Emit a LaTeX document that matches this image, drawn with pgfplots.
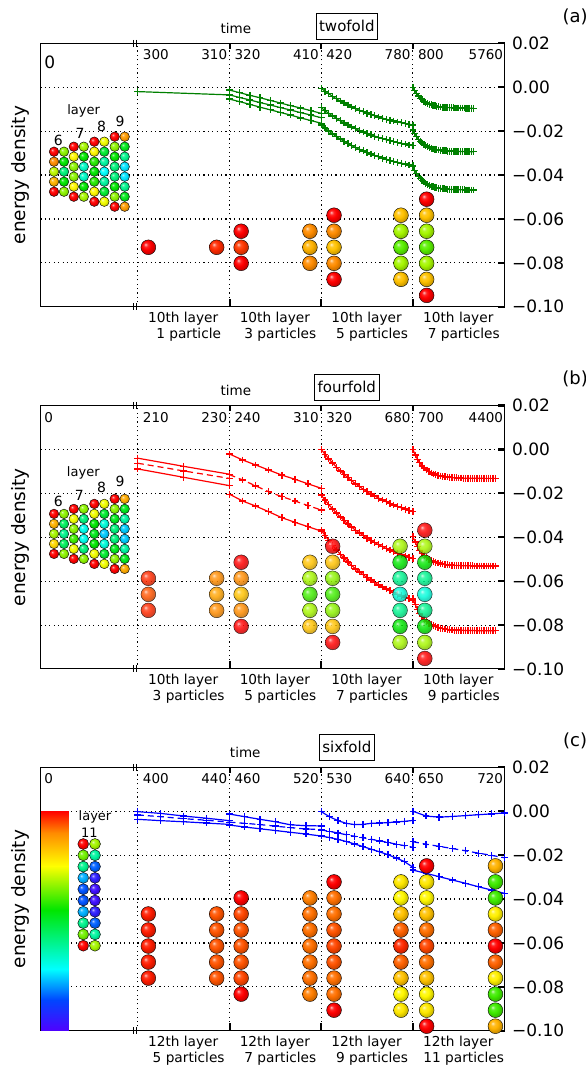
\documentclass[border=0pt]{standalone}
\usepackage{fontspec}
\setmainfont{DejaVu Sans}
\usepackage{pgfplots}
\usepackage{pgfplotstable}
\pgfplotsset{compat=1.18}
\definecolor{mgreen}{RGB}{0,128,0}
\makeatletter
\pgfdeclareradialshading[tikz@ball]{ball}{\pgfqpoint{-10bp}{10bp}}{color(0bp)=(tikz@ball!25!white); color(7bp)=(tikz@ball!85!white); color(15bp)=(tikz@ball); color(25bp)=(tikz@ball!82!black); color(50bp)=(tikz@ball!45!black)}
\makeatother

\pgfplotstableread{
x top mid bot
1.0000 -0.0013 -0.0035 -0.0054
1.1111 -0.0025 -0.0047 -0.0066
1.2222 -0.0037 -0.0058 -0.0078
1.3333 -0.0048 -0.0070 -0.0091
1.4444 -0.0060 -0.0081 -0.0103
1.5556 -0.0072 -0.0093 -0.0115
1.6667 -0.0084 -0.0104 -0.0127
1.7778 -0.0095 -0.0116 -0.0140
1.8889 -0.0107 -0.0127 -0.0152
2.0000 -0.0119 -0.0139 -0.0164
}\tabAone
\pgfplotstableread{
x top mid bot
2.0000 -0.0005 -0.0093 -0.0172
2.0417 -0.0018 -0.0107 -0.0186
2.0833 -0.0030 -0.0119 -0.0200
2.1250 -0.0042 -0.0131 -0.0213
2.1667 -0.0053 -0.0142 -0.0225
2.2083 -0.0063 -0.0153 -0.0236
2.2500 -0.0072 -0.0163 -0.0247
2.2917 -0.0081 -0.0172 -0.0256
2.3333 -0.0090 -0.0181 -0.0266
2.3750 -0.0098 -0.0189 -0.0275
2.4167 -0.0105 -0.0197 -0.0283
2.4583 -0.0112 -0.0204 -0.0290
2.5000 -0.0118 -0.0211 -0.0298
2.5417 -0.0125 -0.0217 -0.0304
2.5833 -0.0130 -0.0223 -0.0311
2.6250 -0.0136 -0.0229 -0.0317
2.6667 -0.0141 -0.0234 -0.0323
2.7083 -0.0146 -0.0239 -0.0328
2.7500 -0.0150 -0.0243 -0.0333
2.7917 -0.0154 -0.0248 -0.0338
2.8333 -0.0158 -0.0252 -0.0342
2.8750 -0.0162 -0.0256 -0.0346
2.9167 -0.0166 -0.0259 -0.0350
2.9583 -0.0169 -0.0263 -0.0354
3.0000 -0.0172 -0.0266 -0.0357
}\tabAtwo
\pgfplotstableread{
x top mid bot
3.00 0.0000 -0.0195 -0.0362
3.02 -0.0016 -0.0212 -0.0380
3.04 -0.0029 -0.0225 -0.0394
3.06 -0.0040 -0.0237 -0.0407
3.08 -0.0050 -0.0246 -0.0417
3.10 -0.0057 -0.0254 -0.0425
3.12 -0.0064 -0.0261 -0.0432
3.14 -0.0069 -0.0266 -0.0438
3.16 -0.0074 -0.0271 -0.0443
3.18 -0.0077 -0.0275 -0.0447
3.20 -0.0080 -0.0278 -0.0451
3.22 -0.0083 -0.0281 -0.0454
3.24 -0.0085 -0.0283 -0.0456
3.26 -0.0087 -0.0285 -0.0458
3.28 -0.0088 -0.0286 -0.0460
3.30 -0.0090 -0.0287 -0.0461
3.32 -0.0091 -0.0289 -0.0462
3.34 -0.0092 -0.0290 -0.0463
3.36 -0.0092 -0.0290 -0.0464
3.38 -0.0093 -0.0291 -0.0465
3.40 -0.0093 -0.0291 -0.0465
3.42 -0.0094 -0.0292 -0.0466
3.44 -0.0094 -0.0292 -0.0466
3.46 -0.0095 -0.0292 -0.0466
3.48 -0.0095 -0.0293 -0.0467
3.50 -0.0095 -0.0293 -0.0467
3.52 -0.0095 -0.0293 -0.0467
3.54 -0.0095 -0.0293 -0.0467
3.56 -0.0095 -0.0293 -0.0467
3.58 -0.0096 -0.0294 -0.0468
3.60 -0.0096 -0.0294 -0.0468
3.62 -0.0096 -0.0294 -0.0468
3.64 -0.0096 -0.0294 -0.0468
3.66 -0.0096 -0.0294 -0.0468
}\tabAthree
\pgfplotstableread{
x top mid bot
0.0 -0.0040 -0.0063 -0.0089
0.5 -0.0077 -0.0098 -0.0127
1.0 -0.0113 -0.0132 -0.0165
}\tabBzero
\pgfplotstableread{
x top mid bot
1.0000 -0.0021 -0.0115 -0.0204
1.1429 -0.0048 -0.0139 -0.0235
1.2857 -0.0071 -0.0166 -0.0258
1.4286 -0.0094 -0.0193 -0.0284
1.5714 -0.0117 -0.0215 -0.0311
1.7143 -0.0136 -0.0235 -0.0332
1.8571 -0.0157 -0.0256 -0.0352
2.0000 -0.0177 -0.0276 -0.0372
}\tabBone
\pgfplotstableread{
x top mid bot
2.0000 0.0000 -0.0208 -0.0367
2.0417 -0.0022 -0.0231 -0.0392
2.0833 -0.0043 -0.0252 -0.0415
2.1250 -0.0062 -0.0271 -0.0437
2.1667 -0.0081 -0.0290 -0.0458
2.2083 -0.0098 -0.0308 -0.0477
2.2500 -0.0114 -0.0324 -0.0495
2.2917 -0.0129 -0.0339 -0.0513
2.3333 -0.0143 -0.0354 -0.0529
2.3750 -0.0157 -0.0368 -0.0544
2.4167 -0.0169 -0.0380 -0.0558
2.4583 -0.0181 -0.0392 -0.0571
2.5000 -0.0192 -0.0404 -0.0584
2.5417 -0.0203 -0.0414 -0.0595
2.5833 -0.0212 -0.0424 -0.0606
2.6250 -0.0222 -0.0434 -0.0617
2.6667 -0.0230 -0.0442 -0.0627
2.7083 -0.0238 -0.0451 -0.0636
2.7500 -0.0246 -0.0458 -0.0644
2.7917 -0.0253 -0.0466 -0.0652
2.8333 -0.0260 -0.0473 -0.0660
2.8750 -0.0266 -0.0479 -0.0667
2.9167 -0.0272 -0.0485 -0.0674
2.9583 -0.0278 -0.0491 -0.0680
3.0000 -0.0283 -0.0496 -0.0686
}\tabBtwo
\pgfplotstableread{
x top mid bot
3.000 0.0000 -0.0397 -0.0678
3.025 -0.0025 -0.0422 -0.0706
3.050 -0.0045 -0.0443 -0.0728
3.075 -0.0061 -0.0459 -0.0747
3.100 -0.0075 -0.0473 -0.0762
3.125 -0.0085 -0.0484 -0.0774
3.150 -0.0094 -0.0493 -0.0784
3.175 -0.0101 -0.0500 -0.0792
3.200 -0.0107 -0.0506 -0.0798
3.225 -0.0112 -0.0510 -0.0803
3.250 -0.0116 -0.0514 -0.0808
3.275 -0.0119 -0.0517 -0.0811
3.300 -0.0121 -0.0520 -0.0814
3.325 -0.0123 -0.0522 -0.0816
3.350 -0.0125 -0.0524 -0.0818
3.375 -0.0126 -0.0525 -0.0819
3.400 -0.0127 -0.0526 -0.0821
3.425 -0.0128 -0.0527 -0.0822
3.450 -0.0129 -0.0528 -0.0823
3.475 -0.0129 -0.0528 -0.0823
3.500 -0.0130 -0.0529 -0.0824
3.525 -0.0130 -0.0529 -0.0824
3.550 -0.0131 -0.0530 -0.0824
3.575 -0.0131 -0.0530 -0.0825
3.600 -0.0131 -0.0530 -0.0825
3.625 -0.0131 -0.0530 -0.0825
3.650 -0.0131 -0.0530 -0.0825
3.675 -0.0131 -0.0531 -0.0825
3.700 -0.0131 -0.0531 -0.0826
3.725 -0.0131 -0.0531 -0.0826
3.750 -0.0131 -0.0531 -0.0826
3.775 -0.0132 -0.0531 -0.0826
3.800 -0.0132 -0.0531 -0.0826
3.825 -0.0132 -0.0531 -0.0826
3.850 -0.0132 -0.0531 -0.0826
3.875 -0.0132 -0.0531 -0.0826
3.900 -0.0132 -0.0531 -0.0826
}\tabBthree
\pgfplotstableread{
x top mid bot
0.00 -0.0002 -0.0017 -0.0037
0.25 -0.0010 -0.0025 -0.0043
0.50 -0.0022 -0.0034 -0.0048
0.75 -0.0032 -0.0041 -0.0054
1.00 -0.0043 -0.0050 -0.0060
}\tabCzero
\pgfplotstableread{
x top mid bot
1.0000 -0.0013 -0.0050 -0.0063
1.1667 -0.0025 -0.0055 -0.0072
1.3333 -0.0037 -0.0061 -0.0080
1.5000 -0.0048 -0.0068 -0.0088
1.6667 -0.0062 -0.0075 -0.0096
1.8333 -0.0066 -0.0081 -0.0104
2.0000 -0.0067 -0.0083 -0.0113
}\tabCone
\pgfplotstableread{
x top mid bot
2.0000 -0.0002 -0.0085 -0.0113
2.0909 -0.0025 -0.0092 -0.0120
2.1818 -0.0043 -0.0099 -0.0128
2.2727 -0.0055 -0.0107 -0.0138
2.3636 -0.0061 -0.0114 -0.0149
2.4545 -0.0060 -0.0121 -0.0161
2.5455 -0.0055 -0.0128 -0.0173
2.6364 -0.0054 -0.0135 -0.0185
2.7273 -0.0052 -0.0142 -0.0198
2.8182 -0.0049 -0.0150 -0.0213
2.9091 -0.0046 -0.0157 -0.0230
3.0000 -0.0042 -0.0164 -0.0255
}\tabCtwo
\pgfplotstableread{
x top mid bot
3.0000 0.0000 -0.0139 -0.0268
3.1429 -0.0022 -0.0150 -0.0283
3.2857 -0.0027 -0.0160 -0.0298
3.4286 -0.0024 -0.0170 -0.0313
3.5714 -0.0020 -0.0180 -0.0328
3.7143 -0.0016 -0.0191 -0.0344
3.8571 -0.0012 -0.0201 -0.0359
4.0000 -0.0008 -0.0212 -0.0374
}\tabCthree

\tikzset{
  dotl/.style={black, line width=1.1pt, dash pattern=on 1.1pt off 3.3pt},
  ser/.style={line width=1.2pt, mark=+, mark size=3.4pt, mark options={solid, line width=1.3pt}},
  midd/.style={dash pattern=on 6pt off 4pt},
  tl/.style={inner sep=0pt, font=\fontsize{13.5}{13.5}\selectfont},
  bl/.style={anchor=north, align=center, inner sep=0pt, yshift=-5pt, font=\fontsize{13.7}{15.7}\selectfont},
}
\pgfplotsset{
  colormap={cbar}{rgb255(0cm)=(80,0,255); rgb255(1.4cm)=(0,70,255); rgb255(2.8cm)=(0,255,255); rgb255(5.5cm)=(0,230,0); rgb255(7.5cm)=(255,255,0); rgb255(9cm)=(255,140,0); rgb255(10cm)=(255,0,0)},
  mainax/.style={
    anchor=south west, width=464pt, height=263.5pt, scale only axis,
    xmin=-1.06, xmax=4, ymin=-0.10, ymax=0.02,
    axis line style={black, line width=1pt},
    xtick=\empty,
    ytick={-0.10,-0.08,-0.06,-0.04,-0.02,0,0.02},
    yticklabels={−0.10,−0.08,−0.06,−0.04,−0.02,0.00,0.02},
    ytick pos=right, yticklabel pos=right,
    tick align=inside, major tick length=7pt,
    tick style={black, line width=2.2pt},
    yticklabel style={font=\fontsize{17}{17}\selectfont, xshift=4pt},
    clip=false,
    point meta min=0, point meta max=1,
  },
  inset/.style={anchor=north west, x=1pt, y=1pt, y dir=reverse, xmin=0, xmax=100, ymin=0, ymax=180, hide axis, clip=false, point meta min=0, point meta max=1},
  balls/.style={scatter, only marks, mark=ball, mark size=7.4pt, point meta=explicit, scatter/use mapped color={ball color=mapped color}},
  sballs/.style={balls, mark size=4.8pt},
}

\newcommand{\deco}{%
  \pgfplotsinvokeforeach{0,-0.02,-0.04,-0.06,-0.08}{\draw[dotl] (axis cs:-1.06,##1) -- (axis cs:4,##1);}%
  \pgfplotsinvokeforeach{0,1,2,3}{\draw[dotl] (axis cs:##1,-0.10) -- (axis cs:##1,0.02);}%
  \pgfplotsinvokeforeach{1,2,3}{\draw[line width=2pt] (axis cs:##1,0.02) -- ++(0pt,-6pt); \draw[line width=2pt] (axis cs:##1,-0.10) -- ++(0pt,8pt);}%
  \pgfplotsinvokeforeach{-0.049,-0.016}{\draw[line width=1.1pt] (axis cs:##1,0.02) ++(0pt,3.5pt) -- ++(0pt,-7pt); \draw[line width=1.1pt] (axis cs:##1,-0.10) ++(0pt,3.5pt) -- ++(0pt,-7pt);}%
}
\newcommand{\toplabels}[9]{%
  \node[tl, anchor=west] at (axis cs:-1.022,0.0147) {#1};
  \node[tl, anchor=west] at (axis cs:0.054,0.0147) {#2};
  \node[tl, anchor=east] at (axis cs:0.976,0.0147) {#3};
  \node[tl, anchor=west] at (axis cs:1.054,0.0147) {#4};
  \node[tl, anchor=east] at (axis cs:1.976,0.0147) {#5};
  \node[tl, anchor=west] at (axis cs:2.054,0.0147) {#6};
  \node[tl, anchor=east] at (axis cs:2.976,0.0147) {#7};
  \node[tl, anchor=west] at (axis cs:3.054,0.0147) {#8};
  \node[tl, anchor=east] at (axis cs:3.985,0.0147) {#9};
}
\newcommand{\botlabels}[5]{%
  \node[bl] at (axis cs:0.495,-0.10) {#1\\\hspace*{0.8em}#2};
  \node[bl] at (axis cs:1.495,-0.10) {#1\\\hspace*{0.8em}#3};
  \node[bl] at (axis cs:2.495,-0.10) {#1\\\hspace*{0.8em}#4};
  \node[bl] at (axis cs:3.495,-0.10) {#1\\\hspace*{0.8em}#5};
}
\newcommand{\sidelabels}[4]{%
  \node[font=\fontsize{18.5}{18.5}\selectfont, rotate=90] at (rel axis cs:-0.0433,0.5) {energy density};
  \node[font=\fontsize{18}{18}\selectfont] at (rel axis cs:1.152,1.1) {#1};
  \node[font=\fontsize{13.5}{13.5}\selectfont] at (rel axis cs:#2,1.058) {time};
  \node[draw, line width=0.8pt, inner xsep=3pt, minimum height=26pt, font=\fontsize{15}{15}\selectfont] at (rel axis cs:0.66,#4) {#3};
}

\begin{document}
\begin{tikzpicture}
\useasboundingbox (0pt,0pt) rectangle (586pt,1066pt);

% ================= panel (a)
\begin{axis}[mainax, at={(40.6pt,759.2pt)}]
  \deco
  \addplot[mgreen, ser] coordinates {(0,-0.0020) (1,-0.0035)};
  \addplot[mgreen, ser] table[x=x,y=top] {\tabAone};
  \addplot[mgreen, ser] table[x=x,y=mid] {\tabAone};
  \addplot[mgreen, ser] table[x=x,y=bot] {\tabAone};
  \addplot[mgreen, ser] table[x=x,y=top] {\tabAtwo};
  \addplot[mgreen, ser] table[x=x,y=mid] {\tabAtwo};
  \addplot[mgreen, ser] table[x=x,y=bot] {\tabAtwo};
  \addplot[mgreen, ser] table[x=x,y=top] {\tabAthree};
  \addplot[mgreen, ser] table[x=x,y=mid] {\tabAthree};
  \addplot[mgreen, ser] table[x=x,y=bot] {\tabAthree};
  \addplot[balls] coordinates {
    (0.115,-0.0729)[1.0] (0.86,-0.0729)[0.97]
    (1.127,-0.0656)[1.0] (1.127,-0.0729)[0.96] (1.127,-0.0802)[1.0]
    (1.877,-0.0656)[0.9] (1.877,-0.0729)[0.85] (1.877,-0.0802)[0.9]
    (2.14,-0.0583)[1.0] (2.14,-0.0656)[0.9] (2.14,-0.0729)[0.83] (2.14,-0.0802)[0.9] (2.14,-0.0875)[1.0]
    (2.87,-0.0583)[0.83] (2.87,-0.0656)[0.68] (2.87,-0.0729)[0.62] (2.87,-0.0802)[0.68] (2.87,-0.0875)[0.83]
    (3.15,-0.0510)[1.0] (3.15,-0.0583)[0.83] (3.15,-0.0656)[0.68] (3.15,-0.0729)[0.62] (3.15,-0.0802)[0.68] (3.15,-0.0875)[0.83] (3.15,-0.0948)[1.0]
  };
  \toplabels{}{300}{310}{320}{410}{420}{780}{800}{5760}
  \node[inner sep=0pt, anchor=west, font=\fontsize{17}{17}\selectfont] at (axis cs:-1.022,0.0115) {0};
  \botlabels{10th layer}{1 particle}{3 particles}{5 particles}{7 particles}
  \sidelabels{(a)}{0.421}{twofold}{1.066}
\end{axis}
\begin{axis}[inset, at={(40.6pt,1022.7pt)}]
  \addplot[sballs] coordinates {
    (13.4,108.4)[1.0] (13.4,118.4)[0.9] (13.4,128.4)[0.7] (13.4,138.4)[0.85] (13.4,148.4)[1.0]
    (23.4,108.4)[0.66] (23.4,118.4)[0.55] (23.4,128.4)[0.42] (23.4,138.4)[0.55] (23.4,148.4)[0.66]
    (33.2,103.4)[1.0] (33.2,113.4)[0.76] (33.2,123.4)[0.66] (33.2,133.4)[0.66] (33.2,143.4)[0.76] (33.2,153.4)[1.0]
    (43.2,103.4)[0.68] (43.2,113.4)[0.55] (43.2,123.4)[0.34] (43.2,133.4)[0.34] (43.2,143.4)[0.55] (43.2,153.4)[0.68]
    (53.7,98.4)[1.0] (53.7,108.4)[0.76] (53.7,118.4)[0.58] (53.7,128.4)[0.55] (53.7,138.4)[0.58] (53.7,148.4)[0.76] (53.7,158.4)[1.0]
    (63.7,98.4)[0.74] (63.7,108.4)[0.5] (63.7,118.4)[0.38] (63.7,128.4)[0.28] (63.7,138.4)[0.38] (63.7,148.4)[0.5] (63.7,158.4)[0.74]
    (74.1,93.4)[1.0] (74.1,103.4)[0.66] (74.1,113.4)[0.55] (74.1,123.4)[0.42] (74.1,133.4)[0.42] (74.1,143.4)[0.55] (74.1,153.4)[0.66] (74.1,163.4)[1.0]
    (84.1,93.4)[0.88] (84.1,103.4)[0.52] (84.1,113.4)[0.4] (84.1,123.4)[0.26] (84.1,133.4)[0.26] (84.1,143.4)[0.4] (84.1,153.4)[0.52] (84.1,163.4)[0.88]
  };
  \node[font=\fontsize{13}{13}\selectfont] at (axis cs:43,67.4) {layer};
  \node[font=\fontsize{14}{14}\selectfont] at (axis cs:17.7,97.4) {6};
  \node[font=\fontsize{14}{14}\selectfont] at (axis cs:39.4,90) {7};
  \node[font=\fontsize{14}{14}\selectfont] at (axis cs:61.1,82.7) {8};
  \node[font=\fontsize{14}{14}\selectfont] at (axis cs:79.4,78.4) {9};
\end{axis}

% ================= panel (b)
\begin{axis}[mainax, at={(40.6pt,397.0pt)}]
  \deco
  \addplot[red, ser] table[x=x,y=top] {\tabBzero};
  \addplot[red, ser, midd] table[x=x,y=mid] {\tabBzero};
  \addplot[red, ser] table[x=x,y=bot] {\tabBzero};
  \addplot[red, ser] table[x=x,y=top] {\tabBone};
  \addplot[red, ser, midd] table[x=x,y=mid] {\tabBone};
  \addplot[red, ser] table[x=x,y=bot] {\tabBone};
  \addplot[red, ser] table[x=x,y=top] {\tabBtwo};
  \addplot[red, ser] table[x=x,y=mid] {\tabBtwo};
  \addplot[red, ser] table[x=x,y=bot] {\tabBtwo};
  \addplot[red, ser] table[x=x,y=top] {\tabBthree};
  \addplot[red, ser] table[x=x,y=mid] {\tabBthree};
  \addplot[red, ser] table[x=x,y=bot] {\tabBthree};
  \addplot[balls, scatter/use mapped color={ball color=mapped color, opacity=0.85}] coordinates {
    (0.115,-0.0587)[0.97] (0.115,-0.0660)[0.94] (0.115,-0.0733)[0.97]
    (0.86,-0.0587)[0.9] (0.86,-0.0660)[0.87] (0.86,-0.0733)[0.9]
    (1.127,-0.0514)[1.0] (1.127,-0.0587)[0.9] (1.127,-0.0660)[0.83] (1.127,-0.0733)[0.9] (1.127,-0.0806)[1.0]
    (1.877,-0.0514)[0.83] (1.877,-0.0587)[0.68] (1.877,-0.0660)[0.6] (1.877,-0.0733)[0.68] (1.877,-0.0806)[0.83]
    (2.125,-0.0441)[1.0] (2.125,-0.0514)[0.83] (2.125,-0.0587)[0.66] (2.125,-0.0660)[0.6] (2.125,-0.0733)[0.66] (2.125,-0.0806)[0.83] (2.125,-0.0879)[1.0]
    (2.86,-0.0441)[0.68] (2.86,-0.0514)[0.55] (2.86,-0.0587)[0.4] (2.86,-0.0660)[0.32] (2.86,-0.0733)[0.4] (2.86,-0.0806)[0.55] (2.86,-0.0879)[0.68]
    (3.13,-0.0368)[1.0] (3.13,-0.0441)[0.68] (3.13,-0.0514)[0.55] (3.13,-0.0587)[0.4] (3.13,-0.0660)[0.32] (3.13,-0.0733)[0.4] (3.13,-0.0806)[0.55] (3.13,-0.0879)[0.68] (3.13,-0.0952)[1.0]
  };
  \toplabels{0}{210}{230}{240}{310}{320}{680}{700}{4400}
  \botlabels{10th layer}{3 particles}{5 particles}{7 particles}{9 particles}
  \sidelabels{(b)}{0.421}{fourfold}{1.069}
\end{axis}
\begin{axis}[inset, at={(40.6pt,660.5pt)}]
  \addplot[sballs] coordinates {
    (13.4,108.4)[1.0] (13.4,118.4)[0.85] (13.4,128.4)[0.68] (13.4,138.4)[0.8] (13.4,148.4)[1.0]
    (23.4,108.4)[0.66] (23.4,118.4)[0.45] (23.4,128.4)[0.4] (23.4,138.4)[0.45] (23.4,148.4)[0.66]
    (33.2,103.4)[1.0] (33.2,113.4)[0.74] (33.2,123.4)[0.66] (33.2,133.4)[0.6] (33.2,143.4)[0.74] (33.2,153.4)[1.0]
    (43.2,103.4)[0.66] (43.2,113.4)[0.42] (43.2,123.4)[0.3] (43.2,133.4)[0.3] (43.2,143.4)[0.42] (43.2,153.4)[0.66]
    (53.7,98.4)[1.0] (53.7,108.4)[0.74] (53.7,118.4)[0.55] (53.7,128.4)[0.52] (53.7,138.4)[0.55] (53.7,148.4)[0.74] (53.7,158.4)[1.0]
    (63.7,98.4)[0.74] (63.7,108.4)[0.5] (63.7,118.4)[0.32] (63.7,128.4)[0.24] (63.7,138.4)[0.32] (63.7,148.4)[0.5] (63.7,158.4)[0.74]
    (74.1,93.4)[1.0] (74.1,103.4)[0.66] (74.1,113.4)[0.52] (74.1,123.4)[0.42] (74.1,133.4)[0.42] (74.1,143.4)[0.52] (74.1,153.4)[0.66] (74.1,163.4)[1.0]
    (84.1,93.4)[0.86] (84.1,103.4)[0.52] (84.1,113.4)[0.38] (84.1,123.4)[0.24] (84.1,133.4)[0.24] (84.1,143.4)[0.38] (84.1,153.4)[0.52] (84.1,163.4)[0.86]
  };
  \node[font=\fontsize{13}{13}\selectfont] at (axis cs:42.7,67.2) {layer};
  \node[font=\fontsize{14}{14}\selectfont] at (axis cs:17.7,96.2) {6};
  \node[font=\fontsize{14}{14}\selectfont] at (axis cs:38.7,89.5) {7};
  \node[font=\fontsize{14}{14}\selectfont] at (axis cs:61.1,81.8) {8};
  \node[font=\fontsize{14}{14}\selectfont] at (axis cs:79.4,76.2) {9};
\end{axis}

% ================= panel (c)
\begin{axis}[mainax, at={(40.6pt,35.2pt)}]
  \deco
  \addplot[patch, shader=interp, point meta=explicit] coordinates {
    (-1.06,-0.100)[0] (-0.753,-0.100)[0] (-0.753,-0.086)[0.14]
    (-1.06,-0.100)[0] (-0.753,-0.086)[0.14] (-1.06,-0.086)[0.14]
    (-1.06,-0.086)[0.14] (-0.753,-0.086)[0.14] (-0.753,-0.072)[0.28]
    (-1.06,-0.086)[0.14] (-0.753,-0.072)[0.28] (-1.06,-0.072)[0.28]
    (-1.06,-0.072)[0.28] (-0.753,-0.072)[0.28] (-0.753,-0.045)[0.55]
    (-1.06,-0.072)[0.28] (-0.753,-0.045)[0.55] (-1.06,-0.045)[0.55]
    (-1.06,-0.045)[0.55] (-0.753,-0.045)[0.55] (-0.753,-0.025)[0.75]
    (-1.06,-0.045)[0.55] (-0.753,-0.025)[0.75] (-1.06,-0.025)[0.75]
    (-1.06,-0.025)[0.75] (-0.753,-0.025)[0.75] (-0.753,-0.010)[0.90]
    (-1.06,-0.025)[0.75] (-0.753,-0.010)[0.90] (-1.06,-0.010)[0.90]
    (-1.06,-0.010)[0.90] (-0.753,-0.010)[0.90] (-0.753,0.000)[1.0]
    (-1.06,-0.010)[0.90] (-0.753,0.000)[1.0] (-1.06,0.000)[1.0]
  };
  \addplot[blue, ser] table[x=x,y=top] {\tabCzero};
  \addplot[blue, ser, midd] table[x=x,y=mid] {\tabCzero};
  \addplot[blue, ser] table[x=x,y=bot] {\tabCzero};
  \addplot[blue, ser] table[x=x,y=top] {\tabCone};
  \addplot[blue, ser, midd] table[x=x,y=mid] {\tabCone};
  \addplot[blue, ser] table[x=x,y=bot] {\tabCone};
  \addplot[blue, ser] table[x=x,y=top] {\tabCtwo};
  \addplot[blue, ser, midd] table[x=x,y=mid] {\tabCtwo};
  \addplot[blue, ser] table[x=x,y=bot] {\tabCtwo};
  \addplot[blue, ser] table[x=x,y=top] {\tabCthree};
  \addplot[blue, ser, midd] table[x=x,y=mid] {\tabCthree};
  \addplot[blue, ser] table[x=x,y=bot] {\tabCthree};
  \addplot[balls] coordinates {
    (0.115,-0.0468)[0.98] (0.115,-0.0541)[0.98] (0.115,-0.0614)[0.98] (0.115,-0.0687)[0.98] (0.115,-0.0760)[0.98]
    (0.86,-0.0468)[0.94] (0.86,-0.0541)[0.94] (0.86,-0.0614)[0.94] (0.86,-0.0687)[0.94] (0.86,-0.0760)[0.94]
    (1.127,-0.0395)[1.0] (1.127,-0.0468)[0.95] (1.127,-0.0541)[0.94] (1.127,-0.0614)[0.94] (1.127,-0.0687)[0.94] (1.127,-0.0760)[0.95] (1.127,-0.0833)[1.0]
    (1.877,-0.0395)[0.91] (1.877,-0.0468)[0.92] (1.877,-0.0541)[0.92] (1.877,-0.0614)[0.92] (1.877,-0.0687)[0.92] (1.877,-0.0760)[0.92] (1.877,-0.0833)[0.91]
    (2.14,-0.0322)[1.0] (2.14,-0.0395)[0.92] (2.14,-0.0468)[0.92] (2.14,-0.0541)[0.94] (2.14,-0.0614)[0.95] (2.14,-0.0687)[0.94] (2.14,-0.0760)[0.92] (2.14,-0.0833)[0.92] (2.14,-0.0906)[1.0]
    (2.87,-0.0322)[0.78] (2.87,-0.0395)[0.76] (2.87,-0.0468)[0.83] (2.87,-0.0541)[0.93] (2.87,-0.0614)[0.97] (2.87,-0.0687)[0.93] (2.87,-0.0760)[0.83] (2.87,-0.0833)[0.76] (2.87,-0.0906)[0.78]
    (3.15,-0.0249)[1.0] (3.15,-0.0322)[0.78] (3.15,-0.0395)[0.76] (3.15,-0.0468)[0.83] (3.15,-0.0541)[0.92] (3.15,-0.0614)[0.95] (3.15,-0.0687)[0.92] (3.15,-0.0760)[0.83] (3.15,-0.0833)[0.76] (3.15,-0.0906)[0.78] (3.15,-0.0979)[1.0]
    (3.9,-0.0249)[0.85] (3.9,-0.0322)[0.6] (3.9,-0.0395)[0.6] (3.9,-0.0468)[0.77] (3.9,-0.0541)[0.93] (3.9,-0.0614)[1.0] (3.9,-0.0687)[0.93] (3.9,-0.0760)[0.77] (3.9,-0.0833)[0.6] (3.9,-0.0906)[0.6] (3.9,-0.0979)[0.85]
  };
  \toplabels{0}{400}{440}{460}{520}{530}{640}{650}{720}
  \botlabels{12th layer}{5 particles}{7 particles}{9 particles}{11 particles}
  \sidelabels{(c)}{0.441}{sixfold}{1.076}
\end{axis}
\begin{axis}[inset, at={(40.6pt,298.7pt)}]
  \addplot[balls, mark size=5.5pt] coordinates {
    (42.7,76.7)[1.0] (42.7,88.0)[0.64] (42.7,99.3)[0.4] (42.7,110.6)[0.22] (42.7,121.9)[0.15] (42.7,133.2)[0.15] (42.7,144.5)[0.22] (42.7,155.8)[0.4] (42.7,167.1)[0.64] (42.7,178.4)[1.0]
    (54.4,76.7)[0.68] (54.4,88.0)[0.38] (54.4,99.3)[0.16] (54.4,110.6)[0.06] (54.4,121.9)[0.03] (54.4,133.2)[0.03] (54.4,144.5)[0.06] (54.4,155.8)[0.16] (54.4,167.1)[0.38] (54.4,178.4)[0.68]
  };
  \node[font=\fontsize{13}{13}\selectfont] at (axis cs:54.4,49.4) {layer};
  \node[font=\fontsize{13}{13}\selectfont] at (axis cs:48.7,65) {11};
\end{axis}
\end{tikzpicture}
\end{document}
